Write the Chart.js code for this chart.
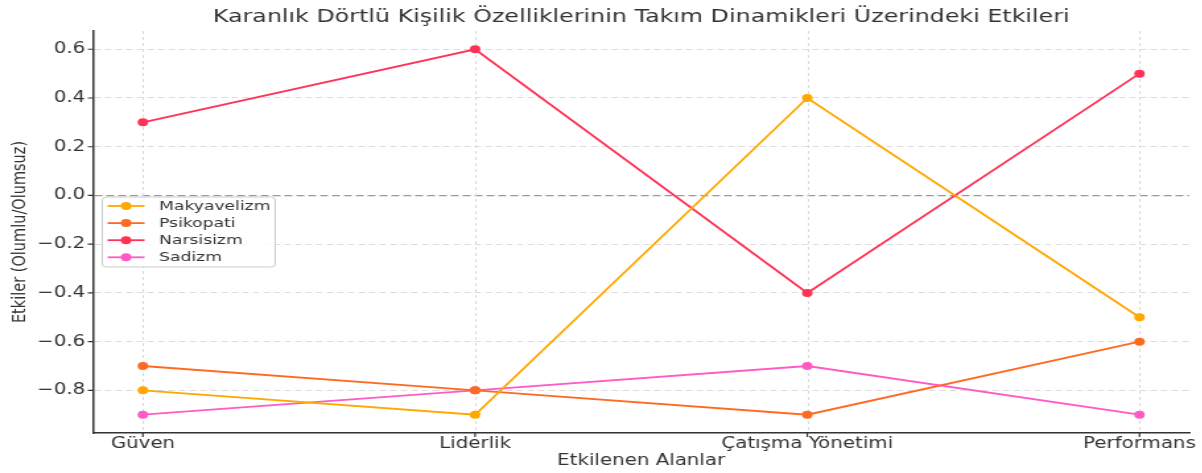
<!DOCTYPE html>
<html>
<head>
<meta charset="utf-8">
<script src="https://cdn.jsdelivr.net/npm/chart.js@4.4.1/dist/chart.umd.min.js"></script>
<style>
  html, body { margin: 0; padding: 0; background: #fff; overflow: hidden; }
  #wrap { width: 911px; height: 473px; transform: scaleX(1.32); transform-origin: 0 0; }
</style>
</head>
<body>
<div id="wrap"><canvas id="chart" width="911" height="473"></canvas></div>
<script>
// data
var categories = ["Güven", "Liderlik", "Çatışma Yönetimi", "Performans"];
var makyavelizm = [-0.8, -0.9, 0.4, -0.5];
var psikopati = [-0.7, -0.8, -0.9, -0.6];
var narsisizm = [0.3, 0.6, -0.4, 0.5];
var sadizm = [-0.9, -0.8, -0.7, -0.9];
var seriesNames = ["Makyavelizm", "Psikopati", "Narsisizm", "Sadizm"];
var yTicks = [-0.8, -0.6, -0.4, -0.2, 0.0, 0.2, 0.4, 0.6];
var chartTitle = "Karanlık Dörtlü Kişilik Özelliklerinin Takım Dinamikleri Üzerindeki Etkileri";

var colors = ["#ffa800", "#ff6a22", "#ff3358", "#ff5ac6"];
var font = "'DejaVu Sans', sans-serif";

function points(values) {
  return values.map(function (v, i) { return { x: i, y: v }; });
}

var allSeries = [makyavelizm, psikopati, narsisizm, sadizm];
var datasets = allSeries.map(function (vals, i) {
  return {
    label: seriesNames[i],
    data: points(vals),
    borderColor: colors[i],
    backgroundColor: colors[i],
    pointBackgroundColor: colors[i],
    pointBorderWidth: 0,
    pointRadius: 4,
    borderWidth: 1.8,
    tension: 0
  };
});

// vertical dashed grid, title, category labels and short dark tick marks
var decorations = {
  id: "decorations",
  beforeDatasetsDraw: function (chart) {
    var ctx = chart.ctx;
    var area = chart.chartArea;
    var xs = chart.scales.x;
    ctx.save();
    ctx.strokeStyle = "#d9d9d9";
    ctx.lineWidth = 1;
    ctx.setLineDash([3, 3]);
    ctx.beginPath();
    xs.ticks.forEach(function (t) {
      var px = Math.round(xs.getPixelForValue(t.value)) + 0.5;
      ctx.moveTo(px, area.top);
      ctx.lineTo(px, area.bottom);
    });
    ctx.stroke();
    ctx.restore();
  },
  afterDraw: function (chart) {
    var ctx = chart.ctx;
    var area = chart.chartArea;
    var xs = chart.scales.x, ys = chart.scales.y;
    ctx.save();
    ctx.setLineDash([]);
    ctx.strokeStyle = "#333";
    ctx.lineWidth = 1.2;
    ctx.beginPath();
    xs.ticks.forEach(function (t) {
      var px = xs.getPixelForValue(t.value);
      ctx.moveTo(px, area.bottom);
      ctx.lineTo(px, area.bottom + 4);
    });
    ys.ticks.forEach(function (t) {
      var py = ys.getPixelForValue(t.value);
      ctx.moveTo(area.left - 4, py);
      ctx.lineTo(area.left, py);
    });
    ctx.stroke();
    ctx.fillStyle = "#333";
    ctx.font = "15px " + font;
    ctx.textAlign = "center";
    ctx.textBaseline = "middle";
    xs.ticks.forEach(function (t) {
      ctx.fillText(categories[t.value], xs.getPixelForValue(t.value), area.bottom + 11.5);
    });
    ctx.font = "18px " + font;
    ctx.fillText(chartTitle, (area.left + area.right) / 2, 17.5);
    ctx.restore();
  }
};

// legend drawn inside plot area, centre left like the original
var innerLegend = {
  id: "innerLegend",
  afterDatasetsDraw: function (chart) {
    var ctx = chart.ctx;
    var area = chart.chartArea;
    var w = 131, h = 70;
    var left = area.left + 7;
    var top = (area.top + area.bottom) / 2 - h / 2;
    ctx.save();
    ctx.beginPath();
    ctx.roundRect(left, top, w, h, 3);
    ctx.fillStyle = "rgba(255,255,255,0.8)";
    ctx.fill();
    ctx.strokeStyle = "#cccccc";
    ctx.lineWidth = 1;
    ctx.stroke();
    chart.data.datasets.forEach(function (ds, i) {
      var y = top + 9 + i * 17.1;
      ctx.strokeStyle = ds.borderColor;
      ctx.lineWidth = 1.8;
      ctx.beginPath();
      ctx.moveTo(left + 4, y);
      ctx.lineTo(left + 32, y);
      ctx.stroke();
      ctx.fillStyle = ds.borderColor;
      ctx.beginPath();
      ctx.arc(left + 18, y, 4, 0, Math.PI * 2);
      ctx.fill();
      ctx.fillStyle = "#333";
      ctx.font = "13px " + font;
      ctx.textBaseline = "middle";
      ctx.textAlign = "left";
      ctx.fillText(ds.label, left + 43, y + 0.5);
    });
    ctx.restore();
  }
};

new Chart(document.getElementById("chart"), {
  type: "line",
  data: { datasets: datasets },
  plugins: [innerLegend, decorations],
  options: {
    responsive: false,
    animation: false,
    devicePixelRatio: 1,
    layout: { padding: { left: 0, right: 10, top: 31, bottom: 0 } },
    plugins: {
      legend: { display: false },
      tooltip: { enabled: false },
      title: { display: false }
    },
    scales: {
      x: {
        type: "linear",
        min: -0.15,
        max: 3.15,
        afterBuildTicks: function (scale) {
          scale.ticks = categories.map(function (c, i) { return { value: i }; });
        },
        afterFit: function (scale) { scale.height = 40; },
        ticks: { display: false },
        grid: { display: false, drawTicks: false },
        border: { display: true, color: "#333", width: 1.5 },
        title: {
          display: true,
          text: "Etkilenen Alanlar",
          color: "#333",
          font: { family: font, size: 15 },
          padding: { top: 0, bottom: 3 }
        }
      },
      y: {
        type: "linear",
        min: -0.975,
        max: 0.675,
        afterBuildTicks: function (scale) {
          scale.ticks = yTicks.map(function (v) { return { value: v }; });
        },
        afterFit: function (scale) { scale.width = 70.5; },
        ticks: {
          color: "#333",
          font: { family: font, size: 15 },
          padding: 6,
          callback: function (v) {
            var s = Math.abs(v).toFixed(1);
            return v < -1e-9 ? "\u2212" + s : s;
          }
        },
        grid: {
          color: function (c) { return c.tick && Math.abs(c.tick.value) < 1e-9 ? "#999" : "#dddddd"; },
          lineWidth: function (c) { return c.tick && Math.abs(c.tick.value) < 1e-9 ? 1.2 : 1; },
          drawTicks: false
        },
        border: {
          display: true, color: "#333", width: 1.5,
          dash: function (c) { return c.tick && Math.abs(c.tick.value) < 1e-9 ? [6, 3] : [5, 3]; }
        },
        title: {
          display: true,
          text: "Etkiler (Olumlu/Olumsuz)",
          color: "#333",
          font: { family: font, size: 14.5 },
          padding: { top: 6.5, bottom: 0 }
        }
      }
    }
  }
});
</script>
</body>
</html>
